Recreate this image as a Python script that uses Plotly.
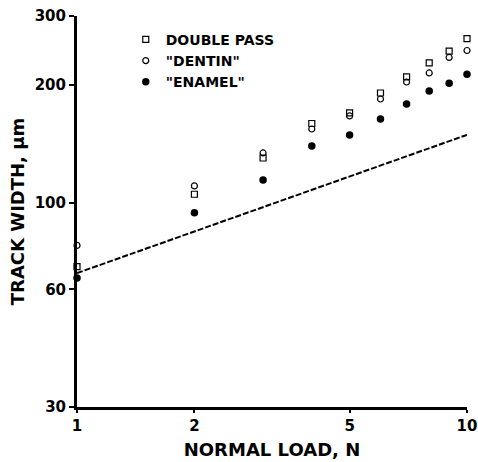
import plotly.graph_objects as go

loads = [1, 2, 3, 4, 5, 6, 7, 8, 9, 10]
double_pass = [68.6, 105.0, 130.0, 159.3, 169.5, 190.6, 209.5, 227.5, 244.0, 262.7]
dentin = [77.7, 110.3, 133.9, 154.2, 166.5, 184.0, 203.4, 214.5, 235.0, 244.8]
enamel = [64.1, 94.2, 114.2, 139.5, 148.9, 163.6, 178.7, 192.9, 202.0, 213.0]
line_x = [1, 10]
line_y = [66, 149]

x_ticks = [1, 2, 5, 10]
y_ticks = [30, 60, 100, 200, 300]

FONT = "DejaVu Sans"

fig = go.Figure()
fig.add_trace(go.Scatter(x=line_x, y=line_y, mode="lines",
                         line=dict(color="black", width=2, dash="6px,2px"),
                         showlegend=False, hoverinfo="skip"))
fig.add_trace(go.Scatter(x=loads, y=double_pass, mode="markers", name="DOUBLE PASS",
                         marker=dict(symbol="square-open", size=6, color="black",
                                     line=dict(width=1.2, color="black")),
                         cliponaxis=False))
fig.add_trace(go.Scatter(x=loads, y=dentin, mode="markers", name="\"DENTIN\"",
                         marker=dict(symbol="circle-open", size=6, color="black",
                                     line=dict(width=1.2, color="black")),
                         cliponaxis=False))
fig.add_trace(go.Scatter(x=loads, y=enamel, mode="markers", name="\"ENAMEL\"",
                         marker=dict(symbol="circle", size=7.5, color="black"),
                         cliponaxis=False))

fig.update_layout(
    width=478, height=462,
    margin=dict(l=77, r=11, t=16, b=55, autoexpand=False),
    paper_bgcolor="white", plot_bgcolor="white",
    font=dict(family=FONT, color="black"),
    showlegend=True,
    legend=dict(x=0.125, y=0.98, xanchor="left", yanchor="top",
                bgcolor="rgba(0,0,0,0)", borderwidth=0,
                font=dict(family=FONT, size=14, color="black", weight="bold"),
                itemwidth=30, tracegroupgap=0),
    xaxis=dict(type="log", range=[0, 1], tickvals=x_ticks,
               ticktext=[str(v) for v in x_ticks], automargin=False,
               showgrid=False, zeroline=False,
               showline=True, linecolor="black", linewidth=3,
               ticks="outside", ticklen=3, tickwidth=2, tickcolor="black",
               tickfont=dict(family=FONT, size=15, weight="bold"),
               title=dict(text="NORMAL LOAD, N", standoff=10,
                          font=dict(family=FONT, size=18, weight="bold"))),
    yaxis=dict(type="log", range=[1.4771, 2.4771], tickvals=y_ticks,
               ticktext=[str(v) for v in y_ticks], automargin=False,
               showgrid=False, zeroline=False,
               showline=True, linecolor="black", linewidth=3,
               ticks="outside", ticklen=5, tickwidth=2, tickcolor="black",
               tickfont=dict(family=FONT, size=15, weight="bold"),
               title=dict(text="TRACK WIDTH, μm", standoff=6,
                          font=dict(family=FONT, size=18, weight="bold"))),
)

fig.write_html("out.html", config={"displayModeBar": False},
               post_script="document.body.style.margin='0';")
